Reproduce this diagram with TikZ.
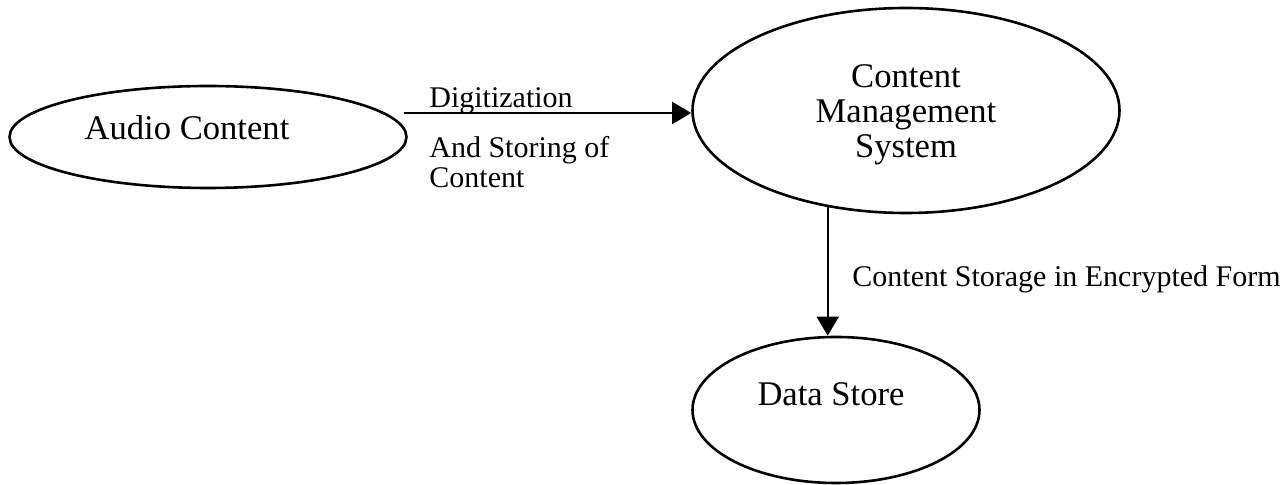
\documentclass[tikz,border=0pt]{standalone}
\usepackage{fontspec}
\setmainfont{Liberation Serif}
\usetikzlibrary{arrows.meta,shapes.geometric,calc}
\begin{document}
\begin{tikzpicture}[x=0.5pt,y=-0.5pt,
  proc/.style={draw, ellipse, line width=1.3pt, inner sep=0pt},
  big/.style={font=\fontsize{17.3}{17.5}\selectfont, inner sep=0pt},
  small/.style={font=\fontsize{15}{15}\selectfont, inner sep=0pt},
  flow/.style={line width=1pt, -{Triangle[length=9.5pt,width=11pt]}}]
\useasboundingbox (0,0) rectangle (1287,485);

% processes and store
\node[proc, minimum width=198.5pt, minimum height=51pt] (audio) at (208,137) {};
\node[big, anchor=base] (audiotxt) at (187,140) {Audio Content};

\node[proc, minimum width=213.5pt, minimum height=102.5pt] (cms) at (906,110.5) {};
\node[big, align=center] (cmstxt) at (906,115) {Content\\Management\\System};

\node[proc, minimum width=143.5pt, minimum height=73pt] (ds) at (836,410) {};
\node[big, anchor=base] (dstxt) at (831,406) {Data Store};

% flows
\coordinate (hs) at ($(audio.east)+(-4,-24)$);
\draw[flow] (hs) -- (hs -| cms.west);
\draw[flow] (cms.231) -- (cms.231 |- ds.north);

% flow labels
\node[small, anchor=base west] (dig) at (429,108) {Digitization};
\node[small, anchor=base west] (store1) at (429,158) {And Storing of};
\node[small, anchor=base west] (store2) at (429,188) {Content};
\node[small, anchor=base west] (enc) at (852,287) {Content Storage in Encrypted Form};
\end{tikzpicture}
\end{document}
